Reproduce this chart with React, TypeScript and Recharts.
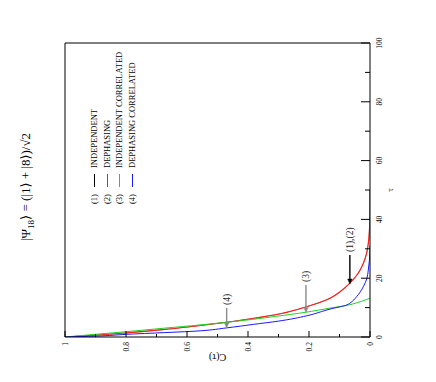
import React from 'react';
import { LineChart, Line, XAxis, YAxis, ReferenceLine, Legend } from 'recharts';

// ---- series ----
const seriesTags = ['(1)', '(2)', '(3)', '(4)'];
const seriesNames = ['INDEPENDENT', 'DEPHASING', 'INDEPENDENT CORRELATED', 'DEPHASING CORRELATED'];
const seriesColors = ['#000000', '#ff1a1a', '#1ed21e', '#1a1aff'];
const seriesWidths = [0.4, 1.1, 1, 1];

const tauIndependent = [0, 0.5, 1.3, 2.5, 3.5, 4.5, 6.3, 8, 10.3, 13.2, 15.4, 18.3, 21.5, 25, 28.5, 31.9, 36, 40, 45, 50];
const cIndependent = [1, 0.92, 0.81, 0.68, 0.59, 0.51, 0.385, 0.29, 0.208, 0.131, 0.098, 0.066, 0.04, 0.022, 0.011, 0.0055, 0.002, 0.0008, 0.0002, 0];

const tauDephasing = [0, 0.5, 1.3, 2.5, 3.5, 4.5, 6.3, 8, 10.3, 13.2, 15.4, 18.3, 21.5, 25, 28.5, 31.9, 36, 40, 45, 50];
const cDephasing = [1, 0.92, 0.81, 0.68, 0.59, 0.51, 0.385, 0.29, 0.208, 0.131, 0.098, 0.066, 0.04, 0.022, 0.011, 0.0055, 0.002, 0.0008, 0.0002, 0];

const tauIndCorrelated = [0, 1, 1.8, 3, 4.1, 5, 6, 7, 8.4, 9.75, 10.9, 12, 13.2];
const cIndCorrelated = [1, 0.89, 0.8, 0.675, 0.557, 0.47, 0.385, 0.31, 0.212, 0.135, 0.07, 0.032, 0];

const tauDephCorrelated = [0, 0.3, 0.9, 2.1, 3.1, 4.3, 5.4, 7.2, 9.5, 10.9, 11.5, 13.7, 17.1, 20, 22.8, 26, 31];
const cDephCorrelated = [1, 0.9, 0.8, 0.557, 0.47, 0.382, 0.3, 0.208, 0.131, 0.076, 0.066, 0.044, 0.022, 0.01, 0.0055, 0.002, 0];

// ---- axes ----
const tauTicks = [0, 10, 20, 30, 40, 50, 60, 70, 80, 90, 100];
const tauTickLabels = ['0', '', '20', '', '40', '', '60', '', '80', '', '100'];
const cTicks = [0, 0.1, 0.2, 0.3, 0.4, 0.5, 0.6, 0.7, 0.8, 0.9, 1];
const cTickLabels = ['0', '', '0.2', '', '0.4', '', '0.6', '', '0.8', '', '1'];

// ---- annotations ----
const arrowLabels = ['(4)', '(3)', '(1),(2)'];
const arrowTailTau = [9.9, 17.7, 27.9];
const arrowTipTau = [3.1, 8.3, 18];
const arrowC = [0.47, 0.21, 0.066];
const arrowColors = ['#8a8a8a', '#8a8a8a', '#000000'];

const toPoints = (t: number[], c: number[]) => t.map((x, i) => ({ tau: x, c: c[i] }));
const seriesData = [
  toPoints(tauIndependent, cIndependent),
  toPoints(tauDephasing, cDephasing),
  toPoints(tauIndCorrelated, cIndCorrelated),
  toPoints(tauDephCorrelated, cDephCorrelated),
];

const FONT = '"Liberation Serif", "DejaVu Serif", serif';

const idxOf = (arr: number[], v: number) => arr.findIndex((a) => Math.abs(a - v) < 1e-6);

const makeXTick = (side: 'bottom' | 'top') => (props: any) => {
  const { x, y, payload } = props;
  const i = idxOf(tauTicks, payload.value);
  const label = i >= 0 ? tauTickLabels[i] : '';
  const major = label !== '';
  const len = major ? 9 : 5;
  const dir = side === 'bottom' ? -1 : 1;
  return (
    <g>
      <line x1={x} y1={y} x2={x} y2={y + dir * len} stroke="#000" strokeWidth={1} />
      {side === 'bottom' && major ? (
        <text x={x} y={y + 12} textAnchor="middle" fontSize={7.5} fontFamily={FONT} fill="#000">
          {label}
        </text>
      ) : null}
    </g>
  );
};

const makeYTick = (side: 'left' | 'right') => (props: any) => {
  const { x, y, payload } = props;
  const i = idxOf(cTicks, payload.value);
  const label = i >= 0 ? cTickLabels[i] : '';
  const major = label !== '';
  const len = side === 'left' ? (major ? 6 : 3) : (major ? 4 : 3);
  const dir = side === 'left' ? 1 : -1;
  return (
    <g>
      <line x1={x} y1={y} x2={x + dir * len} y2={y} stroke="#000" strokeWidth={1} />
      {side === 'left' && major ? (
        <text x={x - 5} y={y} textAnchor="end" dominantBaseline="central" fontSize={7.5} fontFamily={FONT} fill="#000">
          {label}
        </text>
      ) : null}
    </g>
  );
};

const makeArrow = (label: string, color: string) => (props: any) => {
  const { x1, y1, x2, y2 } = props;
  const dx = x2 - x1;
  const dy = y2 - y1;
  const L = Math.sqrt(dx * dx + dy * dy) || 1;
  const ux = dx / L;
  const uy = dy / L;
  const hl = 5;
  const hw = 2.2;
  const bx = x2 - ux * hl;
  const by = y2 - uy * hl;
  const pts = `${x2},${y2} ${bx - uy * hw},${by + ux * hw} ${bx + uy * hw},${by - ux * hw}`;
  return (
    <g>
      <line x1={x1} y1={y1} x2={bx} y2={by} stroke={color} strokeWidth={1.4} />
      <polygon points={pts} fill={color} stroke={color} strokeWidth={0.5} />
      <text x={x1 + 3} y={y1} textAnchor="start" dominantBaseline="central" fontSize={9.5} fontFamily={FONT} fill="#222">
        {label}
      </text>
    </g>
  );
};

const LegendBox = () => (
  <div style={{ fontFamily: FONT, fontSize: 8.5, color: '#000', lineHeight: '12.7px' }}>
    {seriesNames.map((name, i) => (
      <div key={name} style={{ display: 'flex', alignItems: 'center', height: 12.7, whiteSpace: 'nowrap' }}>
        <span style={{ display: 'inline-block', width: 17 }}>{seriesTags[i]}</span>
        <span style={{ display: 'inline-block', width: 13, height: 0, borderTop: `1px solid ${seriesColors[i]}` }} />
        <span style={{ marginLeft: 6 }}>{name}</span>
      </div>
    ))}
  </div>
);

export default function App() {
  return (
    <div style={{ position: 'absolute', left: 0, top: 0, width: 436, height: 382, overflow: 'hidden', background: '#fff' }}>
      <div
        style={{
          position: 'absolute',
          left: 0,
          top: 0,
          width: 382,
          height: 436,
          transformOrigin: '0 0',
          transform: 'translate(0px, 382px) rotate(-90deg)',
        }}
      >
        <div
          style={{
            position: 'absolute',
            left: 4,
            top: 18,
            width: 382,
            textAlign: 'center',
            fontFamily: FONT,
            fontSize: 13,
            lineHeight: '16px',
            color: '#000',
            whiteSpace: 'nowrap',
          }}
        >
          |Ψ<sub style={{ fontSize: 9 }}>18</sub>⟩ = (|1⟩ + |8⟩)/√2
        </div>
        <LineChart width={382} height={436} margin={{ top: 55, right: 33, bottom: 36, left: 5 }}>
          <XAxis
            xAxisId={0}
            dataKey="tau"
            type="number"
            domain={[0, 100]}
            ticks={tauTicks}
            interval={0}
            orientation="bottom"
            height={30}
            tickSize={0}
            tickMargin={0}
            tickLine={false}
            axisLine={{ stroke: '#000', strokeWidth: 1 }}
            tick={makeXTick('bottom')}
            allowDataOverflow
            label={{
              content: (p: any) => {
                const vb = p.viewBox || {};
                return (
                  <text x={vb.x + vb.width / 2} y={vb.y + 23} textAnchor="middle" fontSize={9} fontFamily={FONT} fill="#000">
                    τ
                  </text>
                );
              },
            }}
          />
          <XAxis
            xAxisId="t"
            dataKey="tau"
            type="number"
            domain={[0, 100]}
            ticks={tauTicks}
            interval={0}
            orientation="top"
            height={10}
            tickSize={0}
            tickMargin={0}
            tickLine={false}
            axisLine={{ stroke: '#000', strokeWidth: 1 }}
            tick={makeXTick('top')}
          />
          <YAxis
            yAxisId={0}
            dataKey="c"
            type="number"
            domain={[0, 1]}
            ticks={cTicks}
            interval={0}
            orientation="left"
            width={40}
            tickSize={0}
            tickMargin={0}
            tickLine={false}
            axisLine={{ stroke: '#000', strokeWidth: 1 }}
            tick={makeYTick('left')}
            allowDataOverflow
            label={{
              content: (p: any) => {
                const vb = p.viewBox || {};
                const cx = vb.x + 20;
                const cy = vb.y + vb.height / 2;
                return (
                  <text
                    x={cx}
                    y={cy}
                    textAnchor="middle"
                    dominantBaseline="central"
                    transform={`rotate(-90 ${cx} ${cy})`}
                    fontSize={10}
                    fontFamily={FONT}
                    fill="#000"
                  >
                    C(τ)
                  </text>
                );
              },
            }}
          />
          <YAxis
            yAxisId="r"
            type="number"
            domain={[0, 1]}
            ticks={cTicks}
            interval={0}
            orientation="right"
            width={10}
            tickSize={0}
            tickMargin={0}
            tickLine={false}
            axisLine={{ stroke: '#000', strokeWidth: 1 }}
            tick={makeYTick('right')}
          />
          {seriesData.map((d, i) => (
            <Line
              key={seriesNames[i]}
              data={d}
              dataKey="c"
              xAxisId={0}
              yAxisId={0}
              type="monotone"
              stroke={seriesColors[i]}
              strokeWidth={seriesWidths[i]}
              dot={false}
              activeDot={false}
              isAnimationActive={false}
              name={seriesNames[i]}
            />
          ))}
          {arrowLabels.map((lab, i) => (
            <ReferenceLine
              key={lab}
              xAxisId={0}
              yAxisId={0}
              segment={[
                { x: arrowTailTau[i], y: arrowC[i] },
                { x: arrowTipTau[i], y: arrowC[i] },
              ]}
              ifOverflow="visible"
              shape={makeArrow(lab, arrowColors[i])}
            />
          ))}
          <Legend
            layout="vertical"
            align="center"
            verticalAlign="middle"
            wrapperStyle={{ position: 'absolute', left: 178, top: 88, width: 'auto' }}
            content={() => <LegendBox />}
          />
        </LineChart>
      </div>
    </div>
  );
}
